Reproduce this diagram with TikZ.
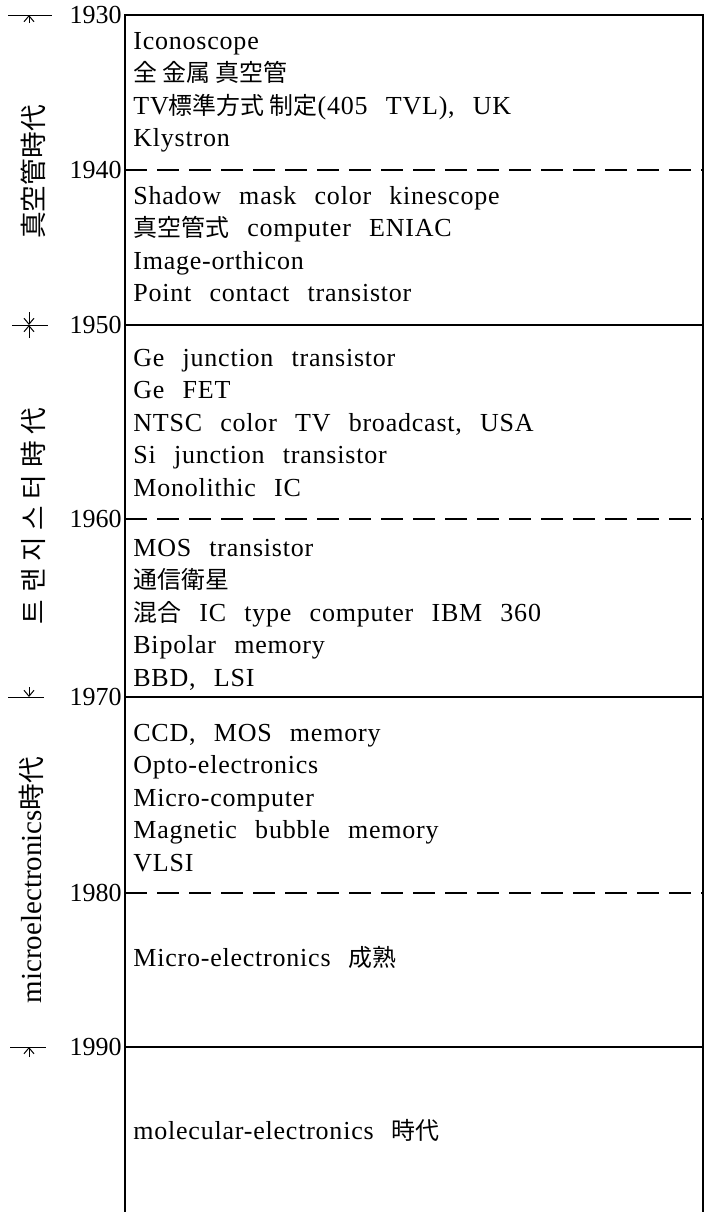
\documentclass[tikz,border=0pt]{standalone}
\usepackage{fontspec}
\setmainfont{Liberation Serif}
\newfontfamily\evfont{Liberation Serif}[LetterSpace=3, WordSpace=2.5]
\newfontfamily\jp{Noto Sans CJK JP}[Scale=0.92]
\newfontfamily\krsp{Noto Sans CJK KR}[Scale=0.92, LetterSpace=25]
\usetikzlibrary{arrows.meta, calc}

\begin{document}
\begin{tikzpicture}[
    x=0.5pt, y=-0.5pt,
    frame/.style={line width=1pt},
    sepline/.style={line width=0.8pt, dash pattern=on 11pt off 5pt},
    evt/.style={anchor=north west, align=left, inner sep=0,
                font=\evfont\fontsize{13pt}{16.25pt}\selectfont},
    yr/.style={anchor=east, inner sep=0, font=\fontsize{13pt}{15pt}\selectfont},
    era/.style={rotate=90, inner sep=0, font=\fontsize{14.5pt}{16pt}\selectfont},
    tick/.style={line width=0.5pt},
    tip/.style={-{Straight Barb[length=3pt,width=5pt]}, line width=0.5pt}
]
\useasboundingbox (0,0) rectangle (705,1212);

%% ===== TIME AXIS =====
\coordinate (t1930) at (125,15);
\coordinate (t1940) at (125,170);
\coordinate (t1950) at (125,325);
\coordinate (t1960) at (125,519);
\coordinate (t1970) at (125,697);
\coordinate (t1980) at (125,893);
\coordinate (t1990) at (125,1047);
\coordinate (rt) at (703,15);
\coordinate (lb) at (125,1212);
\coordinate (rb) at (703,1212);

\node[yr] (l1930) at (122,15)   {1930};
\node[yr] (l1940) at (122,170)  {1940};
\node[yr] (l1950) at (122,325)  {1950};
\node[yr] (l1960) at (122,519)  {1960};
\node[yr] (l1970) at (122,697)  {1970};
\node[yr] (l1980) at (122,893)  {1980};
\node[yr] (l1990) at (122,1047) {1990};

%% ===== TABLE FRAME =====
\draw[frame] (lb) -- (t1930) -- (rt) -- (rb);
\draw[frame] (t1950) -- (t1950 -| rt);
\draw[frame] (t1970) -- (t1970 -| rt);
\draw[frame] (t1990) -- (t1990 -| rt);
\draw[sepline] (t1940) -- (t1940 -| rt);
\draw[sepline] (t1960) -- (t1960 -| rt);
\draw[sepline] (t1980) -- (t1980 -| rt);

%% ===== EVENTS =====
\node[evt] (s1) at (133,25.85)
  {\strut Iconoscope\\{\jp 全 金属 真空管}\\TV{\jp 標準方式 制定}(405 TVL), UK\\Klystron};
\node[evt] (s2) at (133,180.85)
  {\strut Shadow mask color kinescope\\{\jp 真空管式} computer ENIAC\\Image-orthicon\\Point contact transistor};
\node[evt] (s3) at (133,342.85)
  {\strut Ge junction transistor\\Ge FET\\NTSC color TV broadcast, USA\\Si junction transistor\\Monolithic IC};
\node[evt] (s4) at (133,532.85)
  {\strut MOS\ transistor\\{\jp 通信衛星}\\{\jp 混合} IC type computer IBM 360\\Bipolar memory\\BBD,\ LSI};
\node[evt] (s5) at (133,717.85)
  {\strut CCD,\ MOS memory\\Opto-electronics\\Micro-computer\\Magnetic bubble memory\\VLSI};
\node[evt] (s6) at (133,942.85)
  {\strut Micro-electronics {\jp 成熟}};
\node[evt] (s7) at (133,1115.85)
  {\strut molecular-electronics {\jp 時代}};

%% ===== ERA LABELS =====
\node[era] (e1) at (33,172) {\jp 真空管時代};
\node[era] (e2) at (33,516) {\krsp 트랜지스터時代};
\node[era] (e3) at (31,880) {microelectronics{\jp 時代}};

%% ===== ERA MARKS =====
\coordinate (m1930) at (29,15);
\coordinate (m1950) at (29,325);
\coordinate (m1970) at (29,697);
\coordinate (m1990) at (29,1047);
\draw[tick] ($(m1930)+(-21,0)$) -- ++(44,0);
\draw[tick] ($(m1950)+(-17,0)$) -- ++(36,0);
\draw[tick] ($(m1970)+(-21,0)$) -- ++(36,0);
\draw[tick] ($(m1990)+(-19,0)$) -- ++(36,0);
\draw[tip] ($(m1930)+(0,8)$)   -- (m1930);
\draw[tip] ($(m1950)+(0,-13)$) -- (m1950);
\draw[tip] ($(m1950)+(0,13)$)  -- (m1950);
\draw[tip] ($(m1970)+(0,-10)$) -- (m1970);
\draw[tip] ($(m1990)+(0,10)$)  -- (m1990);

\end{tikzpicture}
\end{document}
